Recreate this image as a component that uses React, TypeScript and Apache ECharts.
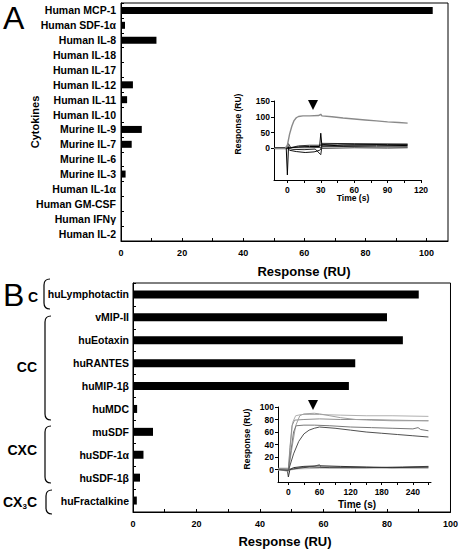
import React, { useEffect, useRef } from 'react';
import * as echarts from 'echarts';

// ---------- Panel A data ----------
const catsA = ['Human MCP-1', 'Human SDF-1α', 'Human IL-8', 'Human IL-18', 'Human IL-17', 'Human IL-12', 'Human IL-11', 'Human IL-10', 'Murine IL-9', 'Murine IL-7', 'Murine IL-6', 'Murine IL-3', 'Human IL-1α', 'Human GM-CSF', 'Human IFNγ', 'Human IL-2'];
const valsA = [102, 1.3, 11.6, 0, 0, 3.9, 2.0, 0, 6.8, 3.5, 0, 1.5, 0, 0, 0, 0];
const ticksMain = [0, 10, 20, 30, 40, 50, 60, 70, 80, 90, 100];
const labelsMain = [0, 20, 40, 60, 80, 100];

// ---------- Panel B data ----------
const catsB = ['huLymphotactin', 'vMIP-II', 'huEotaxin', 'huRANTES', 'huMIP-1β', 'huMDC', 'muSDF', 'huSDF-1α', 'huSDF-1β', 'huFractalkine'];
const valsB = [90, 80, 85, 70, 68, 1.3, 6.3, 3.3, 2.2, 1.2];

// ---------- Inset A (sensorgram) ----------
const insetAxTicks = [0, 15, 30, 45, 60, 75, 90, 105, 120];
const insetAxLabels = [0, 30, 60, 90, 120];
const insetAyLabels = [0, 50, 100, 150];
const insetA_mcp = [[-12, 0], [-2, 0], [0, 10], [2, 45], [4, 70], [6, 88], [8, 97], [10, 101], [14, 103], [20, 103], [28, 104], [30, 108], [31, 103], [40, 100], [50, 96], [60, 93], [70, 90], [80, 87], [90, 84], [100, 82], [108, 80]];
const insetA_n1 = [[-12, 0], [-1, 0], [0, -84], [1, 5], [3, 2], [10, 5], [20, 6], [29, 6], [30, 48], [31, 8], [50, 10], [80, 10], [108, 9]];
const insetA_n2 = [[-12, 2], [0, 2], [2, -6], [8, -10], [16, -13], [24, -11], [29, -6], [30, -2], [31, 12], [45, 14], [60, 13], [90, 12], [108, 12]];
const insetA_n3 = [[-12, -1], [0, -1], [1, 15], [3, 3], [15, 2], [30, 3], [31, 0], [60, 2], [90, 1], [108, 2]];
const insetA_n4 = [[-12, 1], [0, 1], [5, -3], [15, -4], [25, -2], [30, -20], [31, 5], [50, 6], [80, 5], [108, 5]];
const insetA_n5 = [[-12, 0], [0, 0], [10, 8], [20, 10], [30, 10], [31, 16], [60, 15], [108, 14]];

// ---------- Inset B (sensorgram) ----------
const insetBxTicks = [0, 30, 60, 90, 120, 150, 180, 210, 240, 270];
const insetBxLabels = [0, 60, 120, 180, 240];
const insetByLabels = [0, 20, 40, 60, 80, 100];
const insetB_l1 = [[-20, 1], [0, 0], [4, 40], [8, 75], [14, 86], [25, 88], [40, 88], [60, 88], [100, 87], [150, 86], [200, 86], [270, 85]];
const insetB_l2 = [[-20, 0], [0, 0], [3, 35], [7, 70], [12, 79], [30, 80], [60, 81], [100, 80], [150, 80], [200, 79], [270, 78]];
const insetB_l3 = [[-20, 0], [0, -3], [6, 30], [14, 70], [22, 86], [30, 89], [50, 90], [60, 89], [80, 86], [100, 83], [130, 80], [160, 79], [200, 78], [270, 78]];
const insetB_l4 = [[-20, 0], [0, 0], [5, 30], [10, 60], [15, 70], [30, 71], [50, 71], [80, 70], [120, 68], [160, 67], [200, 66], [240, 65], [250, 67], [255, 64], [270, 62]];
const insetB_l5 = [[-20, 0], [0, -2], [10, 25], [20, 45], [30, 57], [40, 63], [50, 66], [60, 68], [90, 66], [120, 63], [150, 60], [180, 58], [210, 56], [240, 54], [270, 52]];
const insetB_b1 = [[-20, 0], [-2, 0], [0, -12], [3, 0], [10, 3], [30, 5], [60, 6], [100, 5], [150, 4], [200, 3], [270, 4]];
const insetB_b2 = [[-20, 2], [0, 2], [5, 0], [20, 3], [50, 5], [60, 8], [62, 4], [100, 4], [200, 3], [270, 3]];
const insetB_b3 = [[-20, -1], [0, -1], [20, 1], [60, 2], [120, 2], [200, 2], [270, 2]];
const insetB_b4 = [[-20, 1], [0, 0], [10, 1], [40, 4], [80, 3], [150, 3], [220, 4], [270, 5]];

const FONT = '"Liberation Sans", Arial, sans-serif';

function bracketPath(x: number, y1: number, y2: number) {
  const r = 6;
  return `M${x + r} ${y1} Q${x} ${y1} ${x} ${y1 + r} L${x} ${y2 - r} Q${x} ${y2} ${x + r} ${y2}`;
}

let registered = false;
function registerShapes() {
  if (registered) return;
  registered = true;
  echarts.graphic.registerShape('brC', echarts.graphic.extendPath(bracketPath(44, 279, 309), {}));
  echarts.graphic.registerShape('brCC', echarts.graphic.extendPath(bracketPath(45, 316, 420), {}));
  echarts.graphic.registerShape('brCXC', echarts.graphic.extendPath(bracketPath(45, 426, 483), {}));
  echarts.graphic.registerShape('brCX3C', echarts.graphic.extendPath(bracketPath(46, 490, 514), {}));
}

const lineS = (data: number[][], x: number, color: string, width = 1) => ({
  type: 'line',
  xAxisIndex: x,
  yAxisIndex: x,
  data,
  symbol: 'none',
  showSymbol: false,
  lineStyle: { color, width },
  silent: true,
});

const mainValueAxis = (gridIndex: number, max: number) => ({
  type: 'value',
  gridIndex,
  min: 0,
  max,
  axisLine: { show: true, lineStyle: { color: '#000', width: 1 } },
  axisTick: { show: true, inside: true, length: 3, lineStyle: { color: '#000' }, customValues: ticksMain },
  axisLabel: { show: true, customValues: labelsMain, color: '#000', fontSize: 9, fontWeight: 'bold', fontFamily: FONT, margin: 7 },
  splitLine: { show: false },
});

const mainCatAxis = (gridIndex: number, data: string[], fontSize: number, margin: number) => ({
  type: 'category',
  gridIndex,
  data,
  inverse: true,
  axisLine: { show: true, lineStyle: { color: '#000', width: 1 } },
  axisTick: { show: true, inside: true, length: 3, lineStyle: { color: '#000' } },
  axisLabel: { color: '#000', fontSize, fontWeight: 'bold', fontFamily: FONT, margin, interval: 0 },
  splitLine: { show: false },
});

const insetAxis = (gridIndex: number, min: number, max: number, ticks: number[], labels: number[], margin: number) => ({
  type: 'value',
  gridIndex,
  min,
  max,
  axisLine: { show: true, onZero: false, lineStyle: { color: '#000', width: 1 } },
  axisTick: { show: true, inside: false, length: 3, lineStyle: { color: '#000' }, customValues: ticks },
  axisLabel: { show: true, customValues: labels, color: '#000', fontSize: 8.5, fontWeight: 'bold', fontFamily: FONT, margin },
  splitLine: { show: false },
});

const txt = (text: string, x: number, y: number, size: number, weight = 'bold', align = 'center', rotation = 0) => ({
  type: 'text',
  x,
  y,
  rotation,
  style: { text, font: `${weight} ${size}px ${FONT}`, fill: '#000', textAlign: align, textVerticalAlign: 'middle' },
});

export default function App() {
  const ref = useRef<HTMLDivElement>(null);
  useEffect(() => {
    if (!ref.current) return;
    registerShapes();
    const chart = echarts.init(ref.current, undefined, { renderer: 'svg' });
    const option: any = {
      animation: false,
      textStyle: { fontFamily: FONT },
      grid: [
        { left: 121, top: 3, width: 327, height: 238, show: true, borderColor: '#000', borderWidth: 1, backgroundColor: 'transparent' },
        { left: 133, top: 283, width: 318, height: 229, show: true, borderColor: '#000', borderWidth: 1, backgroundColor: 'transparent' },
        { left: 274, top: 101, width: 147, height: 79, show: false },
        { left: 278, top: 407, width: 153, height: 75, show: false },
      ],
      xAxis: [
        mainValueAxis(0, 107),
        mainValueAxis(1, 100),
        insetAxis(2, -12, 120, insetAxTicks, insetAxLabels, 5),
        insetAxis(3, -20, 275, insetBxTicks, insetBxLabels, 5),
      ],
      yAxis: [
        mainCatAxis(0, catsA, 10.5, 5),
        mainCatAxis(1, catsB, 10.5, 4),
        insetAxis(2, -100, 150, insetAyLabels, insetAyLabels, 4),
        insetAxis(3, -20, 100, insetByLabels, insetByLabels, 4),
      ],
      series: [
        { type: 'bar', xAxisIndex: 0, yAxisIndex: 0, data: valsA, barWidth: 7, itemStyle: { color: '#000' }, silent: true },
        { type: 'bar', xAxisIndex: 1, yAxisIndex: 1, data: valsB, barWidth: 8, itemStyle: { color: '#000' }, silent: true },
        lineS(insetA_n5, 2, '#333'),
        lineS(insetA_n4, 2, '#222'),
        lineS(insetA_n3, 2, '#444'),
        lineS(insetA_n2, 2, '#111'),
        lineS(insetA_n1, 2, '#000'),
        lineS(insetA_mcp, 2, '#8a8a8a', 1.4),
        lineS(insetB_b3, 3, '#bbbbbb'),
        lineS(insetB_b2, 3, '#888888'),
        lineS(insetB_b4, 3, '#444444'),
        lineS(insetB_b1, 3, '#333333'),
        lineS(insetB_l1, 3, '#b0b0b0'),
        lineS(insetB_l2, 3, '#909090'),
        lineS(insetB_l3, 3, '#a0a0a0'),
        lineS(insetB_l4, 3, '#787878'),
        lineS(insetB_l5, 3, '#505050'),
      ],
      graphic: [
        txt('A', 3, 18, 32, 'normal', 'left'),
        txt('B', 3, 295, 32, 'normal', 'left'),
        txt('Cytokines', 35, 122, 11, 'bold', 'center', Math.PI / 2),
        txt('Response (RU)', 304, 271, 13),
        txt('Response (RU)', 285, 541, 13),
        txt('Response (RU)', 238, 124, 8.5, 'bold', 'center', Math.PI / 2),
        txt('Time (s)', 353, 198, 8.5),
        txt('Response (RU)', 247, 439, 8.5, 'bold', 'center', Math.PI / 2),
        txt('Time (s)', 357, 504, 10),
        txt('C', 38, 297, 14, 'bold', 'right'),
        txt('CC', 37, 367, 14, 'bold', 'right'),
        txt('CXC', 37, 450, 14, 'bold', 'right'),
        {
          type: 'text',
          x: 37,
          y: 502,
          style: {
            text: '{a|CX}{b|3}{a|C}',
            textAlign: 'right',
            textVerticalAlign: 'middle',
            rich: {
              a: { font: `bold 14px ${FONT}`, fill: '#000' },
              b: { font: `bold 8px ${FONT}`, fill: '#000', padding: [8, 0, 0, 0] },
            },
          },
        },
        { type: 'brC', x: 0, y: 0, style: { fill: 'none', stroke: '#000', lineWidth: 1.2 } },
        { type: 'brCC', x: 0, y: 0, style: { fill: 'none', stroke: '#000', lineWidth: 1.2 } },
        { type: 'brCXC', x: 0, y: 0, style: { fill: 'none', stroke: '#000', lineWidth: 1.2 } },
        { type: 'brCX3C', x: 0, y: 0, style: { fill: 'none', stroke: '#000', lineWidth: 1.2 } },
        { type: 'polygon', shape: { points: [[308, 100], [318, 100], [313, 110]] }, style: { fill: '#000' } },
        { type: 'polygon', shape: { points: [[308, 400], [318, 400], [313, 410]] }, style: { fill: '#000' } },
      ],
    };
    chart.setOption(option);
    return () => chart.dispose();
  }, []);
  return <div ref={ref} style={{ width: 461, height: 551, position: 'absolute', left: 0, top: 0, background: '#fff' }} />;
}
